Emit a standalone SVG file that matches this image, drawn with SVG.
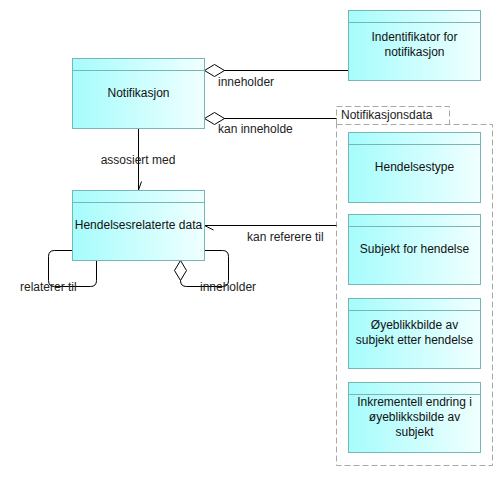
<svg xmlns="http://www.w3.org/2000/svg" width="503" height="477" viewBox="0 0 503 477">
<defs>
<linearGradient id="g" x1="0" y1="0" x2="1" y2="0">
<stop offset="0" stop-color="#a6fcfc"/>
<stop offset="1" stop-color="#f0ffff"/>
</linearGradient>
</defs>
<style>
.box{fill:url(#g);stroke:#76b6b6;stroke-width:1}
.hdr{stroke:#76b6b6;stroke-width:1}
.t{font-family:"Liberation Sans",Arial,sans-serif;font-size:12px;fill:#111;text-anchor:middle}
.lbl{font-family:"Liberation Sans",Arial,sans-serif;font-size:12px;fill:#222}
.c{fill:none;stroke:#000;stroke-width:1}
.d{fill:#fff;stroke:#000;stroke-width:1}
.grp{fill:none;stroke:#a8a8a8;stroke-width:1;stroke-dasharray:6,3}
</style>
<rect width="503" height="477" fill="#fff"/>
<g id="grp-notifikasjonsdata">
<path class="grp" d="M336.5,124.5 V106.5 H449.5 V124.5"/>
<rect class="grp" x="336.5" y="124.5" width="156" height="341"/>
<text class="lbl" x="341" y="119" fill="#111">Notifikasjonsdata</text>
</g>
<g id="connectors">
<path class="c" d="M224,70.5 H348"/>
<polygon class="d" points="204.5,70.5 214.5,64.5 224.5,70.5 214.5,76.5"/>
<text class="lbl" x="218" y="86">inneholder</text>
<path class="c" d="M224,118.5 H336.5"/>
<polygon class="d" points="204.5,118.5 214.5,112.5 224.5,118.5 214.5,124.5"/>
<text class="lbl" x="218" y="133">kan inneholde</text>
<path class="c" d="M138.5,128 V190"/>
<path class="c" d="M138.5,190 L141.5,181.5"/>
<text class="lbl" x="138" y="164" text-anchor="middle">assosiert med</text>
<path class="c" d="M204.5,225.5 H336.5"/>
<path class="c" d="M204.5,225.5 L213.5,230"/>
<text class="lbl" x="247" y="241">kan referere til</text>
<path class="c" d="M72,250.5 H54.5 Q48.5,250.5 48.5,256.5 V280.5 Q48.5,286.5 54.5,286.5 H90.5 Q96.5,286.5 96.5,280.5 V260.5"/>
<text class="lbl" x="20" y="291">relaterer til</text>
<path class="c" d="M204.5,250.5 H222.5 Q228.5,250.5 228.5,256.5 V280.5 Q228.5,286.5 222.5,286.5 H186.5 Q180.5,286.5 180.5,280.5"/>
<polygon class="d" points="180.5,260.5 186.5,270.5 180.5,280.5 174.5,270.5"/>
<text class="lbl" x="200" y="291">inneholder</text>
</g>
<g id="node-notifikasjon">
<rect class="box" x="72.5" y="58.5" width="132" height="70"/>
<line class="hdr" x1="72.5" y1="70.5" x2="204.5" y2="70.5"/>
<text class="t" x="138.5" y="97">Notifikasjon</text>
</g>
<g id="node-identifikator">
<rect class="box" x="348.5" y="10.5" width="132" height="70"/>
<line class="hdr" x1="348.5" y1="22.5" x2="480.5" y2="22.5"/>
<text class="t" x="414.5" y="41">Indentifikator for</text>
<text class="t" x="414.5" y="56">notifikasjon</text>
</g>
<g id="node-hendelsesrelaterte">
<rect class="box" x="72.5" y="190.5" width="132" height="70"/>
<line class="hdr" x1="72.5" y1="202.5" x2="204.5" y2="202.5"/>
<text class="t" x="138.5" y="229">Hendelsesrelaterte data</text>
</g>
<g id="node-hendelsestype">
<rect class="box" x="348.5" y="132.5" width="132" height="70"/>
<line class="hdr" x1="348.5" y1="144.5" x2="480.5" y2="144.5"/>
<text class="t" x="414.5" y="171">Hendelsestype</text>
</g>
<g id="node-subjekt">
<rect class="box" x="348.5" y="214.5" width="132" height="70"/>
<line class="hdr" x1="348.5" y1="226.5" x2="480.5" y2="226.5"/>
<text class="t" x="414.5" y="253">Subjekt for hendelse</text>
</g>
<g id="node-oyeblikkbilde">
<rect class="box" x="348.5" y="298.5" width="132" height="70"/>
<line class="hdr" x1="348.5" y1="310.5" x2="480.5" y2="310.5"/>
<text class="t" x="414.5" y="329">Øyeblikkbilde av</text>
<text class="t" x="414.5" y="344">subjekt etter hendelse</text>
</g>
<g id="node-inkrementell">
<rect class="box" x="348.5" y="382.5" width="132" height="70"/>
<line class="hdr" x1="348.5" y1="394.5" x2="480.5" y2="394.5"/>
<text class="t" x="414.5" y="406">Inkrementell endring i</text>
<text class="t" x="414.5" y="421">øyeblikksbilde av</text>
<text class="t" x="414.5" y="436">subjekt</text>
</g>
</svg>
